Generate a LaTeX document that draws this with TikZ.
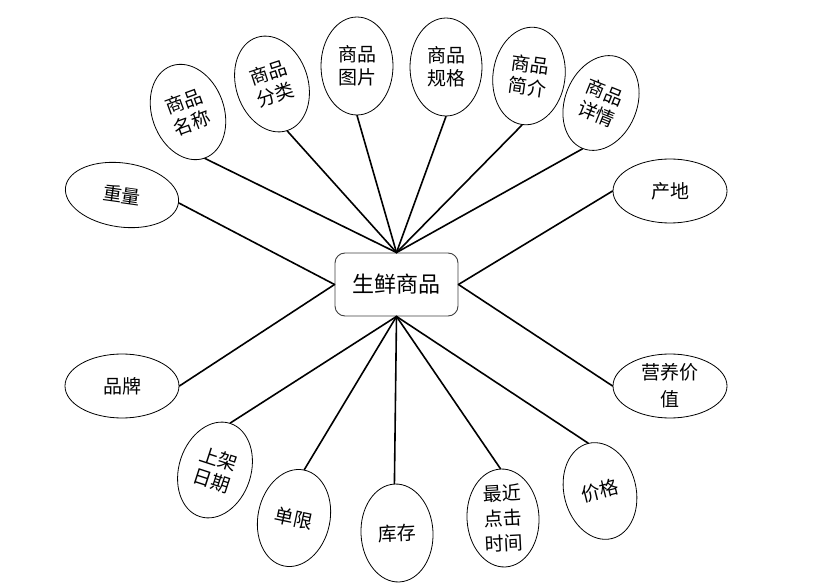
\documentclass[tikz,border=0pt]{standalone}
\usepackage{fontspec}
\newfontfamily\cjk{Noto Sans CJK SC}
\usetikzlibrary{shapes.geometric}
\begin{document}
\begin{tikzpicture}[x=1pt,y=-1pt,
  attr/.style={ellipse, draw, line width=0.8pt, fill=white, inner sep=0pt, align=center,
    font=\cjk\fontsize{19}{23}\selectfont},
  vert/.style={attr, minimum width=72pt, minimum height=98pt},
  horiz/.style={attr, minimum width=114pt, minimum height=64pt},
  link/.style={line width=1.6pt, line cap=round}]
\useasboundingbox (0,0) rectangle (828,588);
\node[draw=black!75, fill=white, rounded corners=10pt, line width=0.9pt,
  minimum width=123pt, minimum height=63pt,
  font=\cjk\fontsize{22}{26}\selectfont] (main) at (396.5,284.5) {生鲜商品};
% top
\node[vert, rotate=20]  (t1) at (188,112) {商品\\名称};
\node[vert, rotate=18]  (t2) at (272,84)  {商品\\分类};
\node[vert]             (t3) at (357,66)  {商品\\图片};
\node[vert]             (t4) at (446,67)  {商品\\规格};
\node[vert, rotate=-8]  (t5) at (529,76)  {商品\\简介};
\node[vert, rotate=-22] (t6) at (601,103) {商品\\详情};
% sides
\node[horiz, rotate=-8] (l1) at (122,195) {重量};
\node[horiz]            (l2) at (122,386) {品牌};
\node[horiz]            (r1) at (670,191) {产地};
\node[horiz, font=\cjk\fontsize{19}{27}\selectfont] (r2) at (670,386) {营养价\\值};
% bottom
\node[vert, rotate=-18] (b1) at (215,470) {上架\\日期};
\node[vert, rotate=-12] (b2) at (294,518) {单限};
\node[vert, rotate=3]   (b3) at (397,533) {库存};
\node[vert, rotate=3, font=\cjk\fontsize{19}{25}\selectfont] (b4) at (503,518) {最近\\点击\\时间};
\node[vert, rotate=14]  (b5) at (600,491) {价格};
% connectors
\foreach \n in {t1,t2,t3,t4,t5,t6} \draw[link] (\n.south) -- (main.north);
\foreach \n in {b1,b2,b3,b4,b5} \draw[link] (\n.north) -- (main.south);
\foreach \n in {l1,l2} \draw[link] (\n.east) -- (main.west);
\foreach \n in {r1,r2} \draw[link] (\n.west) -- (main.east);
\end{tikzpicture}
\end{document}
